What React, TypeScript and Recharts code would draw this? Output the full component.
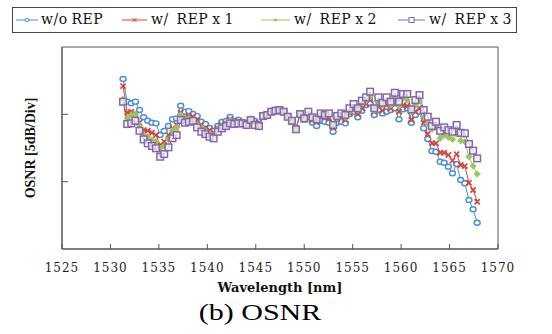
import React from 'react';
import { LineChart, Line, XAxis, YAxis, ReferenceArea } from 'recharts';

// wavelength of each channel [nm]
const wavelengths = [
  1531.3, 1531.73, 1532.15, 1532.58, 1533.0, 1533.43, 1533.85, 1534.28, 1534.7, 1535.13,
  1535.55, 1535.98, 1536.4, 1536.83, 1537.25, 1537.68, 1538.1, 1538.53, 1538.95, 1539.38,
  1539.8, 1540.23, 1540.65, 1541.08, 1541.5, 1541.93, 1542.35, 1542.78, 1543.2, 1543.63,
  1544.05, 1544.48, 1544.9, 1545.33, 1545.75, 1546.18, 1546.6, 1547.03, 1547.45, 1547.88,
  1548.3, 1548.73, 1549.15, 1549.58, 1550.0, 1550.43, 1550.85, 1551.28, 1551.7, 1552.13,
  1552.55, 1552.98, 1553.4, 1553.83, 1554.25, 1554.68, 1555.1, 1555.53, 1555.95, 1556.38,
  1556.8, 1557.23, 1557.65, 1558.08, 1558.5, 1558.93, 1559.35, 1559.78, 1560.2, 1560.63,
  1561.05, 1561.48, 1561.9, 1562.33, 1562.75, 1563.18, 1563.6, 1564.03, 1564.45, 1564.88,
  1565.3, 1565.73, 1566.15, 1566.58, 1567.0, 1567.43, 1567.85,
];

// OSNR in dB (relative, 5 dB per division)
const noRep = [
  12.62, 10.94, 10.82, 10.94, 10.32, 9.78, 9.52, 9.38, 9.33, 8.46,
  8.76, 9.13, 9.63, 9.7, 10.64, 10.19, 10.24, 10.02, 9.87, 9.45,
  9.28, 8.98, 8.76, 9.13, 9.43, 9.5, 9.8, 9.5, 9.61, 9.43,
  9.35, 9.65, 9.5, 9.28, 9.87, 10.02, 10.21, 10.32, 10.36, 10.21,
  9.87, 9.45, 8.96, 10.02, 9.65, 9.8, 9.38, 9.13, 9.52, 9.45,
  9.38, 8.71, 9.38, 9.45, 9.33, 10.02, 10.19, 9.78, 10.27, 10.69,
  10.84, 9.95, 10.32, 10.07, 10.19, 10.32, 10.45, 9.63, 10.37, 10.45,
  9.38, 9.95, 10.19, 8.96, 8.17, 7.28, 7.22, 6.48, 6.41, 6.11,
  5.62, 6.31, 5.12, 4.88, 3.64, 2.95, 1.95,
];

const rep1 = [
  12.1, 10.12, 10.19, 10.02, 9.38, 8.83, 8.78, 8.63, 8.46, 7.72,
  7.97, 8.46, 8.96, 9.21, 10.12, 9.78, 9.87, 9.82, 9.58, 9.21,
  8.96, 8.83, 8.63, 8.96, 9.21, 9.33, 9.63, 9.43, 9.5, 9.39,
  9.28, 9.61, 9.39, 9.21, 9.87, 9.98, 10.21, 10.3, 10.33, 10.21,
  9.85, 9.5, 8.95, 10.02, 9.58, 9.95, 9.58, 9.45, 9.87, 9.78,
  9.7, 9.03, 9.63, 9.7, 9.58, 10.12, 10.32, 10.02, 10.45, 10.76,
  11.06, 10.19, 10.69, 10.27, 10.69, 10.45, 10.86, 10.19, 10.69, 10.62,
  9.58, 10.19, 10.45, 9.38, 8.54, 7.85, 7.85, 7.15, 7.15, 6.98,
  6.56, 7.05, 6.24, 6.16, 4.92, 4.38, 3.51,
];

const rep2 = [
  11.11, 9.7, 9.95, 10.02, 9.21, 8.46, 8.34, 8.09, 7.97, 7.48,
  7.65, 8.14, 8.78, 9.03, 9.95, 9.7, 9.7, 9.58, 9.28, 9.03,
  8.78, 8.59, 8.46, 8.89, 9.13, 9.24, 9.54, 9.39, 9.47, 9.39,
  9.24, 9.59, 9.32, 9.17, 9.87, 9.96, 10.19, 10.28, 10.32, 10.19,
  9.84, 9.5, 8.91, 10.02, 9.63, 10.06, 9.7, 9.58, 9.95, 9.87,
  9.95, 9.13, 9.7, 9.82, 9.78, 10.19, 10.45, 10.32, 10.76, 11.01,
  11.31, 10.27, 10.94, 10.69, 11.06, 10.69, 11.26, 10.62, 11.19, 11.06,
  10.19, 10.69, 11.01, 9.95, 9.33, 8.89, 9.03, 8.22, 8.46, 8.29,
  8.14, 8.54, 8.04, 7.97, 6.85, 6.16, 5.57,
];

const rep3 = [
  10.94, 9.28, 9.33, 9.52, 8.78, 8.14, 7.85, 7.65, 7.48, 6.85,
  7.05, 7.55, 8.22, 8.46, 9.58, 9.38, 9.45, 9.52, 9.03, 8.71,
  8.54, 8.34, 8.22, 8.71, 8.96, 9.13, 9.33, 9.28, 9.33, 9.33,
  9.21, 9.58, 9.21, 9.13, 9.87, 9.95, 10.19, 10.27, 10.32, 10.19,
  9.82, 9.52, 8.89, 10.02, 9.7, 10.19, 9.78, 9.63, 10.07, 9.95,
  10.07, 9.21, 9.87, 10.07, 9.95, 10.45, 10.76, 10.45, 11.01, 11.26,
  11.68, 10.45, 11.26, 10.86, 11.26, 10.94, 11.6, 10.94, 11.51, 11.51,
  10.37, 11.06, 11.43, 10.32, 9.82, 9.13, 9.45, 8.78, 9.03, 8.83,
  8.71, 9.21, 8.63, 8.59, 7.8, 7.3, 6.73,
];

const xTicks = [1525, 1530, 1535, 1540, 1545, 1550, 1555, 1560, 1565, 1570];
const yTicks = [5, 10];

const BLUE = '#4a8fd6';
const RED = '#d8403c';
const GREEN = '#9cc55a';
const PURPLE = '#8566ae';

const data = wavelengths.map((wl, i) => ({
  wl,
  noRep: noRep[i],
  rep1: rep1[i],
  rep2: rep2[i],
  rep3: rep3[i],
}));

const CircleDot = (p: any) => (
  <ellipse key={`c-${p.index}`} cx={p.cx} cy={p.cy} rx={3} ry={2.5} fill="#fff" stroke={BLUE} strokeWidth={1.4} />
);

const CrossDot = (p: any) => (
  <path
    key={`x-${p.index}`}
    d={`M${p.cx - 2.6},${p.cy - 2.6}L${p.cx + 2.6},${p.cy + 2.6}M${p.cx - 2.6},${p.cy + 2.6}L${p.cx + 2.6},${p.cy - 2.6}`}
    stroke={RED}
    strokeWidth={1.6}
    fill="none"
  />
);

const DiamondDot = (p: any) => (
  <path
    key={`d-${p.index}`}
    d={`M${p.cx},${p.cy - 3.2}L${p.cx + 3.2},${p.cy}L${p.cx},${p.cy + 3.2}L${p.cx - 3.2},${p.cy}Z`}
    fill={GREEN}
    stroke={GREEN}
    strokeWidth={0.8}
  />
);

const SquareDot = (p: any) => (
  <rect key={`s-${p.index}`} x={p.cx - 3.3} y={p.cy - 3.3} width={6.6} height={6.6} fill="#fff" fillOpacity={0.6} stroke={PURPLE} strokeWidth={1.5} />
);

const legendItems = [
  { label: 'w/o REP', color: BLUE, kind: 'circle', lineX: 16, lineW: 22, textX: 41 },
  { label: 'w/  REP x 1', color: RED, kind: 'cross', lineX: 122, lineW: 25, textX: 151 },
  { label: 'w/  REP x 2', color: GREEN, kind: 'diamond', lineX: 261, lineW: 29, textX: 294 },
  { label: 'w/  REP x 3', color: PURPLE, kind: 'square', lineX: 398, lineW: 27, textX: 429 },
];

function LegendMarker({ color, kind, w }: { color: string; kind: string; w: number }) {
  const c = w / 2;
  return (
    <svg width={w} height={10} style={{ display: 'block' }}>
      <line x1={0} y1={5} x2={w} y2={5} stroke={color} strokeWidth={1} />
      {kind === 'circle' && <ellipse cx={c} cy={5} rx={2} ry={1.6} fill="#fff" stroke={color} strokeWidth={1} />}
      {kind === 'cross' && (
        <path d={`M${c - 2},3L${c + 2},7M${c - 2},7L${c + 2},3`} stroke={color} strokeWidth={1} />
      )}
      {kind === 'diamond' && <circle cx={c} cy={5} r={1.6} fill={color} />}
      {kind === 'square' && <rect x={c - 2.5} y={2.5} width={5} height={5} fill="#fff" stroke={color} strokeWidth={1} />}
    </svg>
  );
}

export default function App() {
  return (
    <div style={{ position: 'absolute', left: 0, top: 0, width: 552, height: 334, background: '#fff' }}>
      <div
        style={{
          position: 'absolute',
          left: 12,
          top: 7,
          width: 505,
          height: 26,
          boxSizing: 'border-box',
          border: '1px solid #444',
        }}
      >
        {legendItems.map((it) => (
          <React.Fragment key={it.label}>
            <div style={{ position: 'absolute', left: it.lineX - 13, top: 7 }}>
              <LegendMarker color={it.color} kind={it.kind} w={it.lineW} />
            </div>
            <div
              style={{
                position: 'absolute',
                left: it.textX - 13,
                top: 3,
                fontFamily: 'DejaVu Serif',
                fontSize: 14,
                letterSpacing: 0.5,
                wordSpacing: -1,
                whiteSpace: 'pre',
                color: '#111',
                lineHeight: '17px',
              }}
            >
              {it.label}
            </div>
          </React.Fragment>
        ))}
      </div>

      <LineChart width={552} height={334} data={data} margin={{ top: 47, right: 54, bottom: 35, left: 22 }}>
        <XAxis
          dataKey="wl"
          type="number"
          domain={[1525, 1570]}
          ticks={xTicks}
          interval={0}
          height={50}
          tickSize={-5}
          tickMargin={19}
          axisLine={{ stroke: '#555' }}
          tickLine={{ stroke: '#555' }}
          tick={{ fill: '#222', fontFamily: 'DejaVu Serif', fontSize: 12, letterSpacing: 1 }}
          label={{
            value: 'Wavelength [nm]',
            position: 'insideBottom',
            offset: 7,
            style: { fontFamily: 'DejaVu Serif', fontWeight: 'bold', fontSize: 13, fill: '#111' },
          }}
        />
        <YAxis
          type="number"
          domain={[0, 15]}
          ticks={yTicks}
          width={40}
          tickSize={-6}
          tickFormatter={() => ''}
          axisLine={{ stroke: '#555' }}
          tickLine={{ stroke: '#555' }}
          label={{
            value: 'OSNR [5dB/Div]',
            angle: -90,
            position: 'insideLeft',
            offset: 8,
            textAnchor: 'middle',
            style: { textAnchor: 'middle', fontFamily: 'Liberation Serif', fontWeight: 'bold', fontSize: 14, fill: '#111' },
          }}
        />
        <ReferenceArea x1={1525} x2={1570} y1={0} y2={15} fill="none" stroke="#555" strokeWidth={1} />
        <Line dataKey="noRep" stroke={BLUE} strokeWidth={1} dot={CircleDot} isAnimationActive={false} />
        <Line dataKey="rep1" stroke={RED} strokeWidth={1} dot={CrossDot} isAnimationActive={false} />
        <Line dataKey="rep2" stroke={GREEN} strokeWidth={1} dot={DiamondDot} isAnimationActive={false} />
        <Line dataKey="rep3" stroke={PURPLE} strokeWidth={1} dot={SquareDot} isAnimationActive={false} />
      </LineChart>

      <div
        style={{
          position: 'absolute',
          left: 160,
          width: 200,
          top: 297,
          textAlign: 'center',
          fontFamily: 'Liberation Serif',
          fontSize: 24,
          lineHeight: '30px',
          color: '#000',
          transform: 'scaleX(1.25)',
        }}
      >
        (b) OSNR
      </div>
    </div>
  );
}
